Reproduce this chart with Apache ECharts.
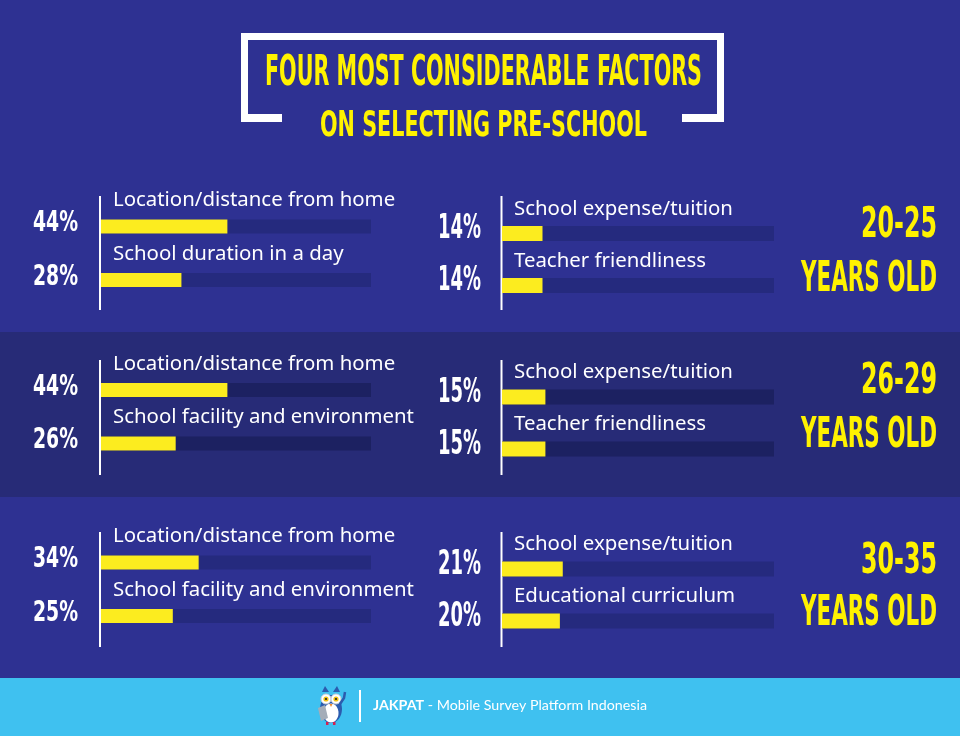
<!DOCTYPE html>
<html>
<head>
<meta charset="utf-8">
<script src="https://cdn.jsdelivr.net/npm/echarts@6/dist/echarts.min.js"></script>
<style>
html,body{margin:0;padding:0;background:#2E3192;}
#chart{width:960px;height:736px;}
</style>
</head>
<body>
<div id="chart"></div>
<script>
// ---------- DATA ----------
const titleLine1 = 'FOUR MOST CONSIDERABLE FACTORS';
const titleLine2 = 'ON SELECTING PRE-SCHOOL';
const ageGroups = ['20-25', '26-29', '30-35'];
const ageSuffix = 'YEARS OLD';
const leftCategories = [
  ['Location/distance from home', 'School duration in a day'],
  ['Location/distance from home', 'School facility and environment'],
  ['Location/distance from home', 'School facility and environment']
];
const leftValues = [[44, 28], [44, 26], [34, 25]];
const rightCategories = [
  ['School expense/tuition', 'Teacher friendliness'],
  ['School expense/tuition', 'Teacher friendliness'],
  ['School expense/tuition', 'Educational curriculum']
];
const rightValues = [[14, 14], [15, 15], [21, 20]];
const footerBrand = 'JAKPAT';
const footerText = ' - Mobile Survey Platform Indonesia';

// ---------- STYLE / LAYOUT ----------
const BG = '#2E3192', BAND = '#272B77', FOOT = '#3FC1F0';
const YEL = '#FCEC1F', TITLE_YEL = '#FFF200';
const TRACK = ['#252A7E', '#1C2161', '#252A7E'];
const COND = "'DejaVu Sans Condensed','Liberation Sans Narrow',sans-serif";
const SANS = "'Noto Sans','Open Sans',sans-serif";
const X_MAX = 94;
const leftTop = [199.75, 363.25, 535.75], leftH = 107;
const rightTop = [207.5, 371, 543], rightH = 104;
const lineSpans = [[196, 310], [360, 475], [532, 647]];
const ageY = [[226, 280], [382, 436], [561.5, 614]];

function measure(text, font) {
  const c = document.createElement('canvas').getContext('2d');
  c.font = font; return c.measureText(text).width;
}
function textEl(text, font, scale, x, y, align, fill) {
  return {
    type: 'text', x: x, y: y, scaleX: scale, silent: true,
    style: { text: text, x: 0, y: 0, font: font, fill: fill,
      textAlign: align, textVerticalAlign: 'middle', align: align, verticalAlign: 'middle' }
  };
}
function fitText(text, font, width, x, y, align, fill) {
  return textEl(text, font, width / measure(text, font), x, y, align, fill);
}

const chart = echarts.init(document.getElementById('chart'), null, { renderer: 'canvas' });

const grids = [], xAxes = [], yAxes = [], series = [], panels = [];
function addPanel(top, height, left, width, cats, vals, band, isRight) {
  const idx = grids.length;
  panels.push({ idx: idx, vals: vals, isRight: isRight });
  grids.push({ left: left, width: width, top: top, height: height });
  xAxes.push({ type: 'value', gridIndex: idx, min: 0, max: X_MAX, show: false });
  yAxes.push({
    type: 'category', gridIndex: idx, data: cats, inverse: true,
    axisLine: { show: false }, axisTick: { show: false }, splitLine: { show: false },
    axisLabel: {
      show: true, inside: true, interval: 0, margin: 12, align: 'left',
      verticalAlign: 'bottom', padding: [0, 0, isRight ? 14.5 : 16, 0],
      color: '#FFFFFF', fontFamily: SANS, fontSize: 20.4, lineHeight: 20
    }
  });
  series.push({
    type: 'bar', xAxisIndex: idx, yAxisIndex: idx, data: vals,
    barWidth: isRight ? 15 : 14, silent: true,
    itemStyle: { color: YEL },
    showBackground: true, backgroundStyle: { color: TRACK[band] },
    label: { show: false }
  });
}
for (let i = 0; i < 3; i++) {
  addPanel(leftTop[i], leftH, 101, 270, leftCategories[i], leftValues[i], i, false);
  addPanel(rightTop[i], rightH, 502, 272, rightCategories[i], rightValues[i], i, true);
}

// ---------- GRAPHICS (decoration & text) ----------
const graphic = [];
graphic.push({ type: 'rect', shape: { x: 0, y: 332, width: 960, height: 165 }, style: { fill: BAND }, silent: true, z: -10 });
graphic.push({ type: 'rect', shape: { x: 0, y: 678, width: 960, height: 58 }, style: { fill: FOOT }, silent: true, z: -10 });
const W = '#FFFFFF';
[[241, 33, 483, 7], [241, 33, 7, 89], [717, 33, 7, 89], [241, 114, 41, 8], [682, 114, 42, 8]].forEach(r => {
  graphic.push({ type: 'rect', shape: { x: r[0], y: r[1], width: r[2], height: r[3] }, style: { fill: W }, silent: true });
});
const tFont1 = 'bold 43px ' + COND, tFont2 = 'bold 35px ' + COND;
graphic.push(fitText(titleLine1, tFont1, 437, 483.5, 74, 'center', TITLE_YEL));
graphic.push(fitText(titleLine2, tFont2, 327, 483.5, 126.5, 'center', TITLE_YEL));
lineSpans.forEach(s => {
  graphic.push({ type: 'rect', shape: { x: 99, y: s[0], width: 2, height: s[1] - s[0] }, style: { fill: W }, silent: true });
  graphic.push({ type: 'rect', shape: { x: 500.5, y: s[0], width: 2, height: s[1] - s[0] }, style: { fill: W }, silent: true });
});
const aFont = 'bold 43px ' + COND;
ageGroups.forEach((g, i) => {
  graphic.push(fitText(g, aFont, 76, 937, ageY[i][0], 'right', TITLE_YEL));
  graphic.push(fitText(ageSuffix, aFont, 136, 937, ageY[i][1], 'right', TITLE_YEL));
});
graphic.push({ type: 'rect', shape: { x: 359, y: 690, width: 2, height: 32 }, style: { fill: W }, silent: true });
const fFontB = "bold 13px 'Lato','Noto Sans',sans-serif", fFont = "13px 'Lato','Noto Sans',sans-serif";
const fW = measure(footerBrand, fFontB) + measure(footerText, fFont);
graphic.push({ type: 'text', x: 373, y: 706, scaleX: 274 / fW, silent: true,
  style: { text: '{b|' + footerBrand + '}{r|' + footerText + '}', x: 0, y: 0, fill: W,
    textAlign: 'left', align: 'left', textVerticalAlign: 'middle', verticalAlign: 'middle',
    rich: { b: { fill: W, fontWeight: 'bold', fontSize: 13, fontFamily: 'Lato' }, r: { fill: W, fontSize: 13, fontFamily: 'Lato' } } } });
const owl = [
  { type: 'polygon', shape: { points: [[322, 692], [325, 686], [329, 692]] }, style: { fill: '#2B5BAE' } },
  { type: 'polygon', shape: { points: [[333, 692], [337, 686], [340, 692]] }, style: { fill: '#2B5BAE' } },
  { type: 'ellipse', shape: { cx: 331, cy: 709, rx: 11, ry: 14 }, style: { fill: '#2B5BAE' } },
  { type: 'ellipse', shape: { cx: 331, cy: 713, rx: 7.5, ry: 9.5 }, style: { fill: '#FFFFFF' } },
  { type: 'circle', shape: { cx: 326, cy: 699, r: 5 }, style: { fill: '#FFFFFF', stroke: '#C9CED6', lineWidth: 1 } },
  { type: 'circle', shape: { cx: 336, cy: 699, r: 5 }, style: { fill: '#FFFFFF', stroke: '#C9CED6', lineWidth: 1 } },
  { type: 'circle', shape: { cx: 326, cy: 699, r: 2.6 }, style: { fill: '#F3C316' } },
  { type: 'circle', shape: { cx: 336, cy: 699, r: 2.6 }, style: { fill: '#F3C316' } },
  { type: 'circle', shape: { cx: 326, cy: 699, r: 1.1 }, style: { fill: '#222' } },
  { type: 'circle', shape: { cx: 336, cy: 699, r: 1.1 }, style: { fill: '#222' } },
  { type: 'polygon', shape: { points: [[329.5, 704], [332.5, 704], [331, 707]] }, style: { fill: '#F08A2C' } },
  { type: 'polyline', shape: { points: [[340, 704], [344, 698], [345, 692]] }, style: { stroke: '#2B5BAE', lineWidth: 2.5, fill: null } },
  { type: 'polygon', shape: { points: [[318, 708], [325, 705], [328, 718], [321, 721]] }, style: { fill: '#A4ADB8' } },
  { type: 'rect', shape: { x: 326, y: 722, width: 2.5, height: 3 }, style: { fill: '#D6204F' } },
  { type: 'rect', shape: { x: 333, y: 722, width: 2.5, height: 3 }, style: { fill: '#D6204F' } }
];
owl.forEach(o => { o.silent = true; graphic.push(o); });

chart.setOption({
  backgroundColor: BG,
  animation: false,
  grid: grids, xAxis: xAxes, yAxis: yAxes, series: series,
  graphic: { elements: graphic }
});

// ---------- percentage labels, placed through the chart's own scales ----------
const pFontL = 'bold 29px ' + COND, pFontR = 'bold 33px ' + COND;
const sL = 45 / measure('44%', pFontL), sR = 43 / measure('14%', pFontR);
const pct = [];
panels.forEach(p => {
  p.vals.forEach((v, k) => {
    const pt = chart.convertToPixel({ gridIndex: p.idx }, [0, k]);
    const gap = p.isRight ? 21 : 23, dy = p.isRight ? -4 : -3;
    pct.push(textEl(v + '%', p.isRight ? pFontR : pFontL, p.isRight ? sR : sL,
      pt[0] - gap, pt[1] + dy, 'right', '#FFFFFF'));
  });
});
chart.setOption({ graphic: { elements: graphic.concat(pct) } });
</script>
</body>
</html>
